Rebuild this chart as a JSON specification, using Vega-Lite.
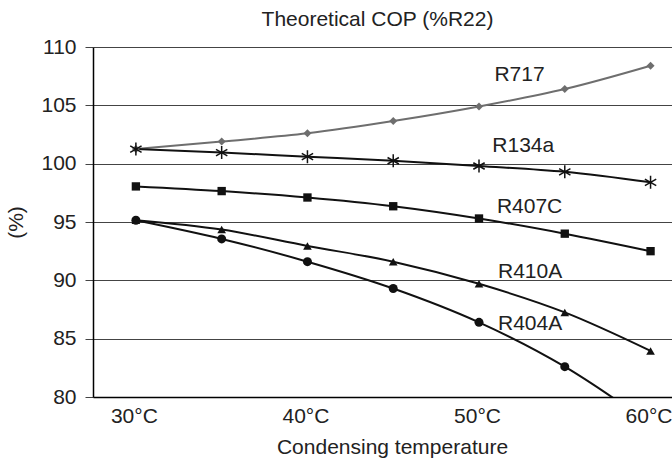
{
  "$schema": "https://vega.github.io/schema/vega-lite/v6.json",
  "autosize": {"type": "none"},
  "padding": {"left": 93, "top": 47, "right": 0, "bottom": 63},
  "width": 579,
  "height": 350,
  "config": {
    "font": "Liberation Sans",
    "view": {"stroke": null},
    "title": {"font": "Liberation Sans", "fontWeight": "normal", "color": "#222"}
  },
  "title": {"text": "Theoretical COP (%R22)", "fontSize": 21, "offset": 6, "dx": -5, "color": "#222"},
  "datasets": {
    "cop": [
      {"t": 30, "v": 101.25, "s": "R717"},
      {"t": 35, "v": 101.9, "s": "R717"},
      {"t": 40, "v": 102.6, "s": "R717"},
      {"t": 45, "v": 103.65, "s": "R717"},
      {"t": 50, "v": 104.9, "s": "R717"},
      {"t": 55, "v": 106.4, "s": "R717"},
      {"t": 60, "v": 108.4, "s": "R717"},
      {"t": 30, "v": 101.25, "s": "R134a"},
      {"t": 35, "v": 100.95, "s": "R134a"},
      {"t": 40, "v": 100.6, "s": "R134a"},
      {"t": 45, "v": 100.25, "s": "R134a"},
      {"t": 50, "v": 99.8, "s": "R134a"},
      {"t": 55, "v": 99.3, "s": "R134a"},
      {"t": 60, "v": 98.4, "s": "R134a"},
      {"t": 30, "v": 98.05, "s": "R407C"},
      {"t": 35, "v": 97.65, "s": "R407C"},
      {"t": 40, "v": 97.1, "s": "R407C"},
      {"t": 45, "v": 96.35, "s": "R407C"},
      {"t": 50, "v": 95.3, "s": "R407C"},
      {"t": 55, "v": 94.0, "s": "R407C"},
      {"t": 60, "v": 92.5, "s": "R407C"},
      {"t": 30, "v": 95.15, "s": "R410A"},
      {"t": 35, "v": 94.35, "s": "R410A"},
      {"t": 40, "v": 92.95, "s": "R410A"},
      {"t": 45, "v": 91.6, "s": "R410A"},
      {"t": 50, "v": 89.7, "s": "R410A"},
      {"t": 55, "v": 87.25, "s": "R410A"},
      {"t": 60, "v": 83.95, "s": "R410A"},
      {"t": 30, "v": 95.15, "s": "R404A"},
      {"t": 35, "v": 93.55, "s": "R404A"},
      {"t": 40, "v": 91.6, "s": "R404A"},
      {"t": 45, "v": 89.3, "s": "R404A"},
      {"t": 50, "v": 86.4, "s": "R404A"},
      {"t": 55, "v": 82.6, "s": "R404A"},
      {"t": 60, "v": 77.7, "s": "R404A"}
    ],
    "labels": [
      {"lx": 52.36, "ly": 107.6, "s": "R717"},
      {"lx": 52.58, "ly": 101.5, "s": "R134a"},
      {"lx": 52.95, "ly": 96.3, "s": "R407C"},
      {"lx": 52.98, "ly": 90.7, "s": "R410A"},
      {"lx": 52.98, "ly": 86.25, "s": "R404A"}
    ]
  },
  "layer": [
    {
      "data": {"name": "cop"},
      "mark": {"type": "line", "strokeWidth": 2, "interpolate": "monotone", "clip": true},
      "encoding": {
        "x": {
          "field": "t", "type": "quantitative",
          "scale": {"domain": [27.5, 61.25], "nice": false, "zero": false},
          "axis": {
            "values": [30, 40, 50, 60],
            "labelExpr": "datum.value + '°C'",
            "grid": false, "ticks": false,
            "domainColor": "#000", "domainWidth": 1.5,
            "labelFontSize": 21, "labelColor": "#222", "labelPadding": 8, "labelOffset": -2,
            "title": "Condensing temperature", "titleFontSize": 21, "titleFontWeight": "normal",
            "titleColor": "#222", "titlePadding": 10, "titleX": 299
          }
        },
        "y": {
          "field": "v", "type": "quantitative",
          "scale": {"domain": [80, 110], "nice": false, "zero": false},
          "axis": {
            "values": [80, 85, 90, 95, 100, 105, 110],
            "grid": true, "gridColor": "#444", "gridWidth": 1,
            "domainColor": "#000", "domainWidth": 1.5,
            "tickColor": "#444", "tickSize": 8,
            "labelFontSize": 21, "labelColor": "#222", "labelPadding": 9,
            "title": "(%)", "titleFontSize": 21, "titleFontWeight": "normal",
            "titleColor": "#222", "titlePadding": 14
          }
        },
        "detail": {"field": "s"},
        "color": {
          "field": "s", "type": "nominal", "legend": null,
          "scale": {"domain": ["R717", "R134a", "R407C", "R410A", "R404A"], "range": ["#6e6e6e", "#111", "#111", "#111", "#111"]}
        }
      }
    },
    {
      "data": {"name": "cop"},
      "transform": [{"filter": "datum.s !== 'R134a'"}],
      "mark": {"type": "point", "filled": true, "opacity": 1, "clip": true},
      "encoding": {
        "x": {"field": "t", "type": "quantitative"},
        "y": {"field": "v", "type": "quantitative"},
        "color": {"field": "s", "type": "nominal", "legend": null},
        "shape": {
          "field": "s", "type": "nominal", "legend": null,
          "scale": {"domain": ["R717", "R407C", "R410A", "R404A"], "range": ["diamond", "square", "triangle-up", "circle"]}
        },
        "size": {
          "field": "s", "type": "nominal", "legend": null,
          "scale": {"domain": ["R717", "R407C", "R410A", "R404A"], "range": [64, 81, 155, 115]}
        }
      }
    },
    {
      "data": {"name": "cop"},
      "transform": [{"filter": "datum.s === 'R134a'"}],
      "mark": {"type": "point", "filled": false, "opacity": 1, "strokeWidth": 1.5, "size": 170, "shape": "M0,-1L0,1M-0.87,-0.5L0.87,0.5M-0.87,0.5L0.87,-0.5", "stroke": "#111"},
      "encoding": {
        "x": {"field": "t", "type": "quantitative"},
        "y": {"field": "v", "type": "quantitative"}
      }
    },
    {
      "data": {"name": "labels"},
      "mark": {"type": "text", "fontSize": 21, "align": "center", "baseline": "middle", "color": "#222"},
      "encoding": {
        "x": {"field": "lx", "type": "quantitative"},
        "y": {"field": "ly", "type": "quantitative"},
        "text": {"field": "s"}
      }
    }
  ]
}
